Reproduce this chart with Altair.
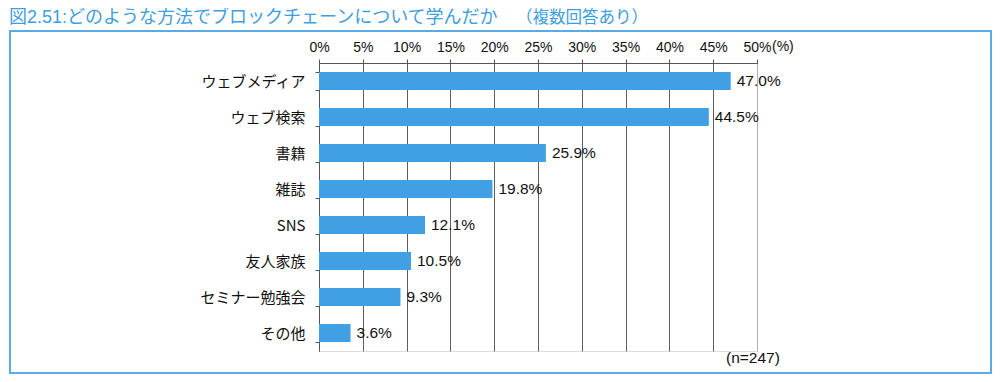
import altair as alt
import pandas as pd

categories = ["ウェブメディア", "ウェブ検索", "書籍", "雑誌", "SNS", "友人家族", "セミナー勉強会", "その他"]
values = [47.0, 44.5, 25.9, 19.8, 12.1, 10.5, 9.3, 3.6]
x_ticks = list(range(0, 51, 5))
title_main = "図2.51:どのような方法でブロックチェーンについて学んだか"
title_sub = "（複数回答あり）"
unit_text = "(%)"
n_text = "(n=247)"

df = pd.DataFrame({"cat": categories, "pct": values})

FONT = "Liberation Sans, 'Noto Sans CJK JP', sans-serif"
JFONT = "'Noto Sans CJK JP', sans-serif"
BLUE = "#419fe3"

base = alt.Chart(df).transform_calculate(
    label="format(datum.pct, '.1f') + '%'"
)

x_enc = alt.X(
    "pct:Q",
    scale=alt.Scale(domain=[0, 50], nice=False),
    axis=alt.Axis(
        orient="top",
        values=x_ticks,
        labelExpr="datum.value + '%'",
        labelFlush=False,
        labelOverlap=False,
        title=None,
        grid=True,
        gridColor={"expr": "datum.value === 50 ? '#b0b0b0' : '#5e5e5e'"},
        gridWidth=1,
        domainColor="#555555",
        tickColor="#555555",
        tickSize=4,
        labelFontSize=14,
        labelFont=FONT,
        labelColor="#111111",
        labelPadding=5,
    ),
)
y_enc = alt.Y(
    "cat:N",
    sort=categories,
    scale=alt.Scale(paddingInner=0.5, paddingOuter=0.25),
    axis=alt.Axis(
        title=None,
        tickBand="extent",
        ticks=True,
        tickSize=4,
        labelFontSize=15,
        labelFont=JFONT,
        labelPadding=10,
        domainColor="#555555",
        tickColor="#555555",
        labelColor="#111111",
        grid=False,
    ),
)

bars = base.mark_bar(color=BLUE).encode(x=x_enc, y=y_enc)

labels = base.mark_text(
    align="left", baseline="middle", dx=6, fontSize=15.5, font=FONT, color="#111111"
).encode(x="pct:Q", y=alt.Y("cat:N", sort=categories), text="label:N")

one = alt.Data(values=[{"a": 1}])

frame = alt.Chart(one).mark_rect(
    filled=False, stroke="#5aaae6", strokeWidth=2, clip=False
).encode(
    x=alt.value(-309), x2=alt.value(672), y=alt.value(-32), y2=alt.value(310)
)

t_main = alt.Chart(one).mark_text(
    align="left", baseline="alphabetic", fontSize=18, font=FONT, color="#3d9ee0"
).encode(x=alt.value(-310), y=alt.value(-40), text=alt.value(title_main))

t_sub = alt.Chart(one).mark_text(
    align="left", baseline="alphabetic", fontSize=16.5, font=FONT, color="#3d9ee0"
).encode(x=alt.value(197), y=alt.value(-40), text=alt.value(title_sub))

t_unit = alt.Chart(one).mark_text(
    align="left", baseline="middle", fontSize=14, font=FONT, color="#111111"
).encode(x=alt.value(453), y=alt.value(-16), text=alt.value(unit_text))

t_n = alt.Chart(one).mark_text(
    align="left", baseline="middle", fontSize=15.5, font=FONT, color="#111111"
).encode(x=alt.value(407), y=alt.value(295), text=alt.value(n_text))

chart = alt.layer(frame, bars, labels, t_main, t_sub, t_unit, t_n).properties(
    width=438,
    height=288,
    autosize=alt.AutoSizeParams(type="none"),
    padding={"left": 311, "top": 55, "right": 235, "bottom": 23},
).configure_view(stroke=None).configure(background="white")

chart.save("out.html", embed_options={"renderer": "svg", "actions": False})
